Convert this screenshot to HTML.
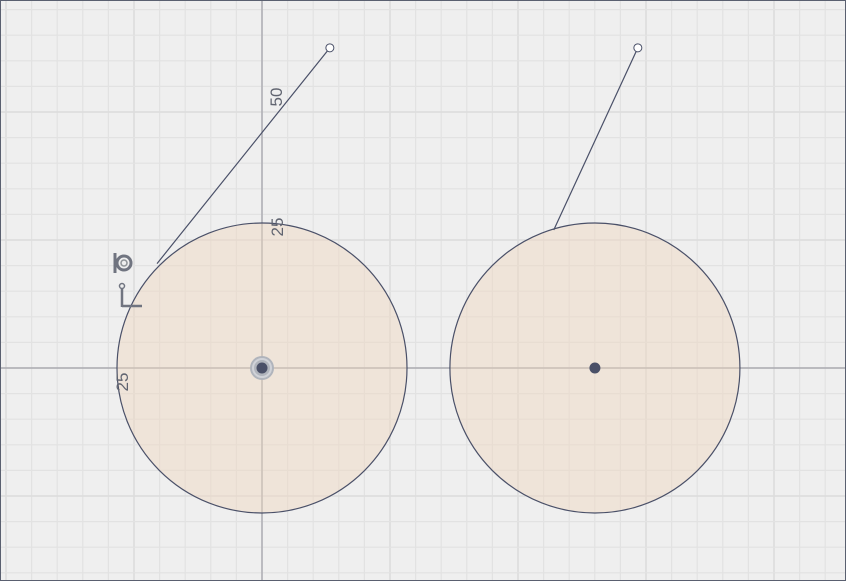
<!DOCTYPE html>
<html><head><meta charset="utf-8"><style>
html,body{margin:0;padding:0;background:#efefef;}
svg{display:block;font-family:"Liberation Sans",sans-serif;}
</style></head><body>
<svg id="c" width="846" height="581">
<rect x="0" y="0" width="846" height="581" fill="#efefef"/>
<g id="grid"></g>
<g id="shapes"></g>
<rect x="0.5" y="0.5" width="845" height="580" fill="none" stroke="#5a6070" stroke-width="1"/>
</svg>
<script>
// sketch data (units in mm, origin at left circle center)
const circleCentersX = [0, 57.4];
const circleRadii = [25, 25];
const lineStartX = [-18.1, 50.3];
const lineStartY = [18.0, 23.8];
const lineEndX = [11.7, 64.8];
const lineEndY = [55.2, 55.2];
const dimLabels = ["50", "25", "25"];

const ox = 262, oy = 368, s = 5.8;
const X = v => ox + v * s, Y = v => oy - v * s;
const NS = "http://www.w3.org/2000/svg";
function mk(tag, attrs, parent){const e=document.createElementNS(NS,tag);for(const k in attrs)e.setAttribute(k,attrs[k]);parent.appendChild(e);return e;}

const grid = document.getElementById('grid');
const step = 25.6;
for (let i=-12;i<=25;i++){
  const x = ox + i*step; if(x<0||x>846) continue;
  const l = mk('line',{x1:x,y1:0,x2:x,y2:581,stroke:i%5===0?'#dcdcdc':'#e2e2e2','stroke-width':i%5===0?1.6:1.2},grid);
  
  
}
for (let j=-15;j<=10;j++){
  const y = oy + j*step; if(y<0||y>581) continue;
  const l = mk('line',{x1:0,y1:y,x2:846,y2:y,stroke:j%5===0?'#dcdcdc':'#e2e2e2','stroke-width':j%5===0?1.6:1.2},grid);
  
  
}
const ax1 = mk('line',{x1:0,y1:oy,x2:846,y2:oy,stroke:'#a0a0a8','stroke-width':1.2},grid);


const ax2 = mk('line',{x1:ox,y1:0,x2:ox,y2:581,stroke:'#a0a0a8','stroke-width':1.2},grid);



const g = document.getElementById('shapes');
circleCentersX.forEach((cx,i)=>{
  const c = mk('circle',{cx:X(cx),cy:Y(0),r:circleRadii[i]*s,fill:'rgba(240,215,190,0.45)',stroke:'#4a5068','stroke-width':1.2},g);
  
  
});
const halo = mk('circle',{cx:X(0),cy:Y(0),r:12,fill:'#b0b4bc'},g);


mk('circle',{cx:X(0),cy:Y(0),r:9,fill:'none',stroke:'#d0d2d8','stroke-width':2},g);
circleCentersX.forEach((cx,i)=>{
  const p = mk('circle',{cx:X(cx),cy:Y(0),r:5.5,fill:'#4a5068'},g);
  
  
});
lineStartX.forEach((x0,i)=>{
  const l = mk('line',{x1:X(x0),y1:Y(lineStartY[i]),x2:X(lineEndX[i]),y2:Y(lineEndY[i]),stroke:'#4a5068','stroke-width':1.2},g);
  
  
  const e = mk('circle',{cx:X(lineEndX[i]),cy:Y(lineEndY[i]),r:4,fill:'#fff',stroke:'#4a5068','stroke-width':1},g);
  
  
});
const labelPos = [[282,97],[283,227],[128,382]];
dimLabels.forEach((t,i)=>{
  const tx = mk('text',{x:labelPos[i][0],y:labelPos[i][1],'font-size':17,fill:'#606470','text-anchor':'middle',transform:`rotate(-90 ${labelPos[i][0]} ${labelPos[i][1]})`},g);
  tx.textContent=t;
  
  
});
const tan = mk('g',{transform:'translate(124,263) rotate(-90)'},g);


mk('circle',{cx:0,cy:0,r:7,fill:'none',stroke:'#707480','stroke-width':3},tan);
mk('circle',{cx:0,cy:0,r:3,fill:'none',stroke:'#909498','stroke-width':1.5},tan);
mk('line',{x1:-10,y1:-9,x2:10,y2:-9,stroke:'#707480','stroke-width':3},tan);
const coin = mk('g',{transform:'translate(122,286)'},g);


mk('circle',{cx:0,cy:0,r:2.5,fill:'none',stroke:'#707480','stroke-width':1.5},coin);
mk('line',{x1:0,y1:3,x2:0,y2:21,stroke:'#707480','stroke-width':2.5},coin);
mk('line',{x1:0,y1:20,x2:20,y2:20,stroke:'#707480','stroke-width':2.5},coin);
</script>
</body></html>
